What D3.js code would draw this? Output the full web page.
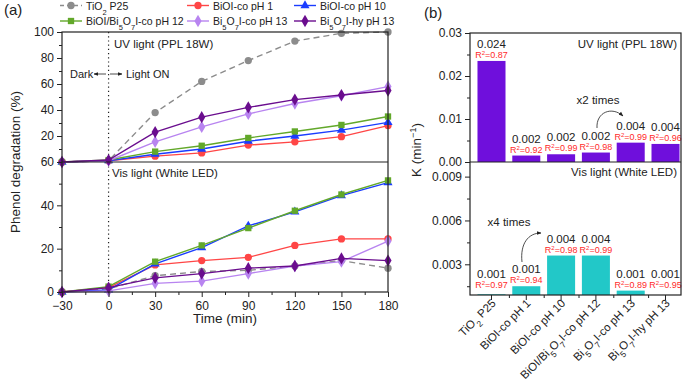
<!DOCTYPE html>
<html>
<head>
<meta charset="utf-8">
<script src="https://cdn.jsdelivr.net/npm/d3@7"></script>
<style>
  body { margin: 0; background: #fff; }
  svg { font-family: "Liberation Sans", Arial, sans-serif; }
</style>
</head>
<body>
<div id="chart"></div>
<script>
// ---- data: panel (a) phenol degradation (%) vs time ----
const times = [-30, 0, 30, 60, 90, 120, 150, 180];

const tio2UV   = [0, 1, 38, 62, 78, 93, 99, 100];
const ph1UV    = [0, 1, 4.5, 7, 13, 15.5, 19.5, 28];
const ph10UV   = [0, 1, 6, 10, 16, 20, 24.5, 30.5];
const ph12UV   = [0, 1.5, 8, 12.5, 18.5, 23.5, 28.5, 35];
const coph13UV = [0, 1, 15.5, 27, 37, 45, 51, 58];
const hyph13UV = [0, 1.5, 23, 34.5, 42, 48, 51.5, 55];

const tio2Vis   = [0, 1.5, 7.5, 9.5, 10, 12, 14.5, 11];
const ph1Vis    = [0, 2, 12.5, 14.5, 16, 21.5, 24.5, 24.5];
const ph10Vis   = [0, 1, 13, 20.5, 30.5, 37, 44.5, 50.5];
const ph12Vis   = [0, 2.5, 14, 21.5, 29.5, 37.5, 45, 51.5];
const coph13Vis = [0, 0.5, 4, 5, 8.5, 12, 14, 23.5];
const hyph13Vis = [0, 2, 6.5, 8.5, 11, 12, 15.5, 14.5];

const seriesNames = ["TiO_2 P25", "BiOI-co pH 1", "BiOI-co pH 10",
                     "BiOI/Bi_5O_7I-co pH 12", "Bi_5O_7I-co pH 13", "Bi_5O_7I-hy pH 13"];

// ---- data: panel (b) rate constant K ----
const categories = seriesNames;
const kUV  = [0.0235, 0.0015, 0.0018, 0.0022, 0.0045, 0.0042];
const kVis = [0.00095, 0.0015, 0.0036, 0.0036, 0.0012, 0.0009];
const kUVLabels  = ["0.024", "0.002", "0.002", "0.002", "0.004", "0.004"];
const r2UV       = ["0.87", "0.92", "0.99", "0.98", "0.99", "0.96"];
const kVisLabels = ["0.001", "0.001", "0.004", "0.004", "0.001", "0.001"];
const r2Vis      = ["0.97", "0.94", "0.98", "0.99", "0.89", "0.95"];

// styles
const styles = [
  { color: "#8c8c8c", sym: d3.symbolCircle, size: 42, dash: "6,4" },
  { color: "#ff4646", sym: d3.symbolCircle, size: 42 },
  { color: "#1a3cff", sym: d3.symbolTriangle, size: 36 },
  { color: "#62a82a", sym: d3.symbolSquare, size: 40 },
  { color: "#b884f0", sym: d3.symbolDiamond, size: 44 },
  { color: "#6a0d8e", sym: d3.symbolDiamond, size: 44 }
];
const uvSeries  = [tio2UV, ph1UV, ph10UV, ph12UV, coph13UV, hyph13UV];
const visSeries = [tio2Vis, ph1Vis, ph10Vis, ph12Vis, coph13Vis, hyph13Vis];

const svg = d3.select("#chart").append("svg")
    .attr("width", 685).attr("height", 388);

const defs = svg.append("defs");
defs.append("marker").attr("id", "arr")
    .attr("viewBox", "0 0 10 10").attr("refX", 9).attr("refY", 5)
    .attr("markerWidth", 6).attr("markerHeight", 6).attr("orient", "auto")
  .append("path").attr("d", "M0,1 L10,5 L0,9 Z").attr("fill", "#222");

// add text with "_d" subscripts
function richText(sel, str, subSize) {
  const parts = str.split(/_(\d)/);
  parts.forEach((p, i) => {
    if (p === "") return;
    if (i % 2 === 1) {
      sel.append("tspan").attr("baseline-shift", "sub").attr("font-size", subSize).text(p);
    } else {
      sel.append("tspan").text(p);
    }
  });
}

// ================= panel (a) =================
const A = { left: 62, right: 388, top: 32, mid: 162, bottom: 292 };
const x = d3.scaleLinear().domain([-30, 180]).range([A.left, A.right]);
const yUV = d3.scaleLinear().domain([0, 100]).range([A.mid, A.top]);
const yVis = d3.scaleLinear().domain([0, 60]).range([A.bottom, A.mid]);

const ga = svg.append("g");

// dotted light-on line
ga.append("line").attr("x1", x(0)).attr("x2", x(0)).attr("y1", A.top).attr("y2", A.bottom)
  .attr("stroke", "#222").attr("stroke-width", 1.2).attr("stroke-dasharray", "1.2,3");

function drawSeries(data, yScale) {
  data.forEach((vals, i) => {
    const st = styles[i];
    const pts = times.map((t, j) => [x(t), yScale(vals[j])]);
    ga.append("path").attr("d", d3.line()(pts))
      .attr("fill", "none").attr("stroke", st.color).attr("stroke-width", 1.4)
      .attr("stroke-dasharray", st.dash || null);
    ga.selectAll(null).data(pts).join("path")
      .attr("transform", d => `translate(${d[0]},${d[1]})`)
      .attr("d", d3.symbol().type(st.sym).size(st.size))
      .attr("fill", st.color);
  });
}
drawSeries(uvSeries, yUV);
drawSeries(visSeries, yVis);

// frame
ga.append("rect").attr("x", A.left).attr("y", A.top)
  .attr("width", A.right - A.left).attr("height", A.bottom - A.top)
  .attr("fill", "none").attr("stroke", "#222").attr("stroke-width", 1.2);
ga.append("line").attr("x1", A.left).attr("x2", A.right).attr("y1", A.mid).attr("y2", A.mid)
  .attr("stroke", "#222").attr("stroke-width", 1.2);

// axes
const axStyle = g => {
  g.selectAll(".domain").remove();
  g.selectAll("line").attr("stroke", "#222");
  g.selectAll("text").attr("font-size", 12).attr("fill", "#222")
    .attr("font-family", "Liberation Sans, Arial, sans-serif");
};
ga.append("g").attr("transform", `translate(${A.left},0)`)
  .call(d3.axisLeft(yUV).tickValues([20, 40, 60, 80, 100]).tickSize(5).tickPadding(3)).call(axStyle);
ga.append("g").attr("transform", `translate(${A.left},0)`)
  .call(d3.axisLeft(yUV).tickValues([10, 30, 50, 70, 90]).tickSize(3).tickFormat("")).call(axStyle);
ga.append("g").attr("transform", `translate(${A.left},0)`)
  .call(d3.axisLeft(yVis).tickValues([0, 20, 40, 60]).tickSize(5).tickPadding(3)).call(axStyle);
ga.append("g").attr("transform", `translate(${A.left},0)`)
  .call(d3.axisLeft(yVis).tickValues([10, 30, 50]).tickSize(3).tickFormat("")).call(axStyle);
ga.append("g").attr("transform", `translate(0,${A.bottom})`)
  .call(d3.axisBottom(x).tickValues(times).tickSize(5).tickPadding(4)).call(axStyle);
ga.append("g").attr("transform", `translate(0,${A.bottom})`)
  .call(d3.axisBottom(x).tickValues([-15, 15, 45, 75, 105, 135, 165]).tickSize(3).tickFormat("")).call(axStyle);

ga.append("text").attr("transform", `translate(20,${(A.top + A.bottom) / 2}) rotate(-90)`)
  .attr("text-anchor", "middle").attr("font-size", 13.5).attr("fill", "#222")
  .text("Phenol degradation (%)");
ga.append("text").attr("x", (A.left + A.right) / 2 + 0).attr("y", 323)
  .attr("text-anchor", "middle").attr("font-size", 13.5).attr("fill", "#222").text("Time (min)");

ga.append("text").attr("x", 114).attr("y", 48).attr("font-size", 11.5).attr("fill", "#222")
  .text("UV light (PPL 18W)");
ga.append("text").attr("x", 112).attr("y", 177).attr("font-size", 11.5).attr("fill", "#222")
  .text("Vis light (White LED)");
ga.append("text").attr("x", 70).attr("y", 78).attr("font-size", 11).attr("fill", "#222").text("Dark");
ga.append("text").attr("x", 126).attr("y", 78).attr("font-size", 11).attr("fill", "#222").text("Light ON");
ga.append("line").attr("x1", 106).attr("x2", 94).attr("y1", 74).attr("y2", 74)
  .attr("stroke", "#222").attr("stroke-width", 0.8).attr("marker-end", "url(#arr)");
ga.append("line").attr("x1", 110).attr("x2", 122).attr("y1", 74).attr("y2", 74)
  .attr("stroke", "#222").attr("stroke-width", 0.8).attr("marker-end", "url(#arr)");

svg.append("text").attr("x", 4).attr("y", 15).attr("font-size", 15).attr("fill", "#222").text("(a)");

// legend
const legCols = [60, 187, 294];
seriesNames.forEach((name, i) => {
  const st = styles[i];
  const cx = legCols[i % 3], cy = i < 3 ? 5.5 : 21;
  const lg = svg.append("g");
  lg.append("line").attr("x1", cx).attr("x2", cx + 22).attr("y1", cy).attr("y2", cy)
    .attr("stroke", st.color).attr("stroke-width", 1.4).attr("stroke-dasharray", st.dash ? "4,3" : null);
  lg.append("path").attr("transform", `translate(${cx + 11},${cy})`)
    .attr("d", d3.symbol().type(st.sym).size(st.size)).attr("fill", st.color);
  const t = lg.append("text").attr("x", cx + 26).attr("y", cy + 4)
    .attr("font-size", 10.5).attr("fill", "#222");
  richText(t, name, 7.5);
});

// ================= panel (b) =================
const B = { left: 470, right: 681, top: 33, mid: 162, bottom: 295 };
const xb = d3.scaleBand().domain(categories).range([B.left, 687])
  .paddingInner(0.195).paddingOuter(0.215);
const kyUV = d3.scaleLinear().domain([0, 0.03]).range([B.mid, B.top]);
const kyVis = d3.scaleLinear().domain([0.0009, 0.0100]).range([B.bottom, B.mid]);

const gb = svg.append("g");

gb.selectAll(".barUV").data(kUV).join("rect")
  .attr("x", (d, i) => xb(categories[i])).attr("width", xb.bandwidth())
  .attr("y", d => kyUV(d)).attr("height", d => kyUV(0) - kyUV(d))
  .attr("fill", "#6f0fdc");
gb.selectAll(".barVis").data(kVis).join("rect")
  .attr("x", (d, i) => xb(categories[i])).attr("width", xb.bandwidth())
  .attr("y", d => kyVis(Math.max(d, 0.0009)))
  .attr("height", d => kyVis(0.0009) - kyVis(Math.max(d, 0.0009)))
  .attr("fill", "#22c8c8");

function barLabels(vals, labels, r2, yScale, floor) {
  vals.forEach((v, i) => {
    const cx = xb(categories[i]) + xb.bandwidth() / 2;
    const top = Math.min(yScale(Math.max(v, floor)), yScale(floor) - 4);
    gb.append("text").attr("x", cx).attr("y", top - 13).attr("text-anchor", "middle")
      .attr("font-size", 11.5).attr("fill", "#222").text(labels[i]);
    const t = gb.append("text").attr("x", cx).attr("y", top - 3).attr("text-anchor", "middle")
      .attr("font-size", 9).attr("fill", "#ff2a2a");
    t.append("tspan").text("R");
    t.append("tspan").attr("baseline-shift", "super").attr("font-size", 6).text("2");
    t.append("tspan").text("=" + r2[i]);
  });
}
barLabels(kUV, kUVLabels, r2UV, kyUV, 0);
barLabels(kVis, kVisLabels, r2Vis, kyVis, 0.0009);

gb.append("rect").attr("x", B.left).attr("y", B.top)
  .attr("width", B.right - B.left).attr("height", B.bottom - B.top)
  .attr("fill", "none").attr("stroke", "#222").attr("stroke-width", 1.2);
gb.append("line").attr("x1", B.left).attr("x2", B.right).attr("y1", B.mid).attr("y2", B.mid)
  .attr("stroke", "#222").attr("stroke-width", 1.2);

gb.append("g").attr("transform", `translate(${B.left},0)`)
  .call(d3.axisLeft(kyUV).tickValues([0, 0.01, 0.02, 0.03]).tickFormat(d3.format(".2f")).tickSize(5).tickPadding(3))
  .call(axStyle);
gb.append("g").attr("transform", `translate(${B.left},0)`)
  .call(d3.axisLeft(kyUV).tickValues([0.005, 0.015, 0.025]).tickSize(3).tickFormat("")).call(axStyle);
gb.append("g").attr("transform", `translate(${B.left},0)`)
  .call(d3.axisLeft(kyVis).tickValues([0.003, 0.006, 0.009]).tickFormat(d3.format(".3f")).tickSize(5).tickPadding(3))
  .call(axStyle);
gb.append("g").attr("transform", `translate(${B.left},0)`)
  .call(d3.axisLeft(kyVis).tickValues([0.0015, 0.0045, 0.0075]).tickSize(3).tickFormat("")).call(axStyle);

// category ticks + labels
gb.append("g").attr("transform", `translate(0,${B.bottom})`)
  .call(d3.axisBottom(xb).tickSize(5).tickFormat("")).call(axStyle);
const step = xb.step();
gb.append("g").attr("transform", `translate(0,${B.bottom})`)
  .call(d3.axisBottom(d3.scaleLinear().domain([0, 1]).range([0, 1]))
    .tickValues(categories.slice(1).map(c => xb(c) + xb.bandwidth() / 2 - step / 2))
    .tickSize(3).tickFormat("")).call(axStyle);

categories.forEach(c => {
  const cx = xb(c) + xb.bandwidth() / 2;
  const t = gb.append("text")
    .attr("transform", `translate(${cx + 5},${B.bottom + 9}) rotate(-45)`)
    .attr("text-anchor", "end").attr("font-size", 11.5).attr("fill", "#222");
  richText(t, c, 8.5);
});

const ky = gb.append("text").attr("transform", `translate(421,${150}) rotate(-90)`)
  .attr("text-anchor", "middle").attr("font-size", 13.5).attr("fill", "#222");
ky.append("tspan").text("K (min");
ky.append("tspan").attr("baseline-shift", "super").attr("font-size", 9).text("−1");
ky.append("tspan").text(")");

gb.append("text").attr("x", 677).attr("y", 48).attr("text-anchor", "end")
  .attr("font-size", 11.5).attr("fill", "#222").text("UV light (PPL 18W)");
gb.append("text").attr("x", 677).attr("y", 176).attr("text-anchor", "end")
  .attr("font-size", 11.5).attr("fill", "#222").text("Vis light (White LED)");

gb.append("text").attr("x", 598).attr("y", 104).attr("text-anchor", "middle")
  .attr("font-size", 11.5).attr("fill", "#222").text("x2 times");
gb.append("path").attr("d", "M597,128 C596,112 612,106 623,116")
  .attr("fill", "none").attr("stroke", "#222").attr("stroke-width", 0.8).attr("marker-end", "url(#arr)");
gb.append("text").attr("x", 509).attr("y", 226).attr("text-anchor", "middle")
  .attr("font-size", 11.5).attr("fill", "#222").text("x4 times");
gb.append("path").attr("d", "M522,262 C520,244 528,233 541,233")
  .attr("fill", "none").attr("stroke", "#222").attr("stroke-width", 0.8).attr("marker-end", "url(#arr)");

svg.append("text").attr("x", 424).attr("y", 18).attr("font-size", 15).attr("fill", "#222").text("(b)");
</script>
</body>
</html>
